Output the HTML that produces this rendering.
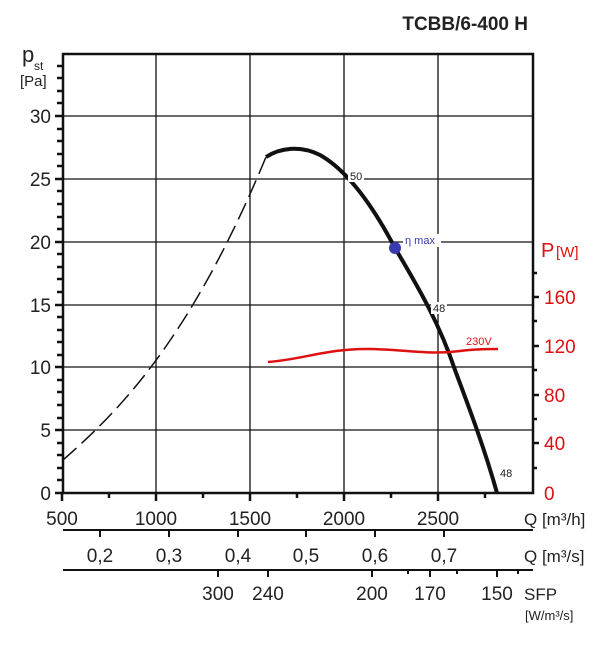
<!DOCTYPE html><html><head><style>body{margin:0;background:#fff}svg{display:block}text{font-family:"Liberation Sans",sans-serif}</style></head><body>
<svg width="607" height="648" viewBox="0 0 607 648">
<text x="528" y="30" font-size="19" font-weight="bold" text-anchor="end" fill="#222">TCBB/6-400 H</text>
<text x="22" y="62" font-size="22" fill="#222">p</text><text x="34" y="70" font-size="12" fill="#222">st</text>
<text x="20" y="86" font-size="15" fill="#222">[Pa]</text>
<g stroke="#111" stroke-width="1.3">
<line x1="156" y1="54" x2="156" y2="493"/><line x1="250" y1="54" x2="250" y2="493"/><line x1="344" y1="54" x2="344" y2="493"/><line x1="438" y1="54" x2="438" y2="493"/>
<line x1="63" y1="116" x2="533" y2="116"/><line x1="63" y1="179" x2="533" y2="179"/><line x1="63" y1="242" x2="533" y2="242"/><line x1="63" y1="305" x2="533" y2="305"/><line x1="63" y1="367" x2="533" y2="367"/><line x1="63" y1="430" x2="533" y2="430"/>
</g>
<rect x="63" y="54" width="470" height="439" fill="none" stroke="#111" stroke-width="2.5"/>
<g stroke="#111" stroke-width="2.5">
<path d="M57 66h6M57 78h6M57 91h6M57 103h6M57 129h6M57 141h6M57 154h6M57 166h6M57 191h6M57 204h6M57 217h6M57 229h6M57 254h6M57 267h6M57 279h6M57 292h6M57 317h6M57 330h6M57 342h6M57 355h6M57 380h6M57 392h6M57 405h6M57 418h6M57 443h6M57 455h6M57 468h6M57 480h6"/>
<path d="M55 116h8M55 179h8M55 242h8M55 305h8M55 367h8M55 430h8M55 493h8"/>
<path d="M533 297h6M533 346h6M533 395h6M533 443h6M533 321h4M533 370h4M533 419h4M533 468h4M533 273h4"/>
<path d="M62 493v8M156 493v8M250 493v8M344 493v8M438 493v8M109 493v5M203 493v5M297 493v5M391 493v5M485 493v5"/>
</g>
<g font-size="19" fill="#222" text-anchor="end"><text x="51" y="123">30</text><text x="51" y="186">25</text><text x="51" y="249">20</text><text x="51" y="312">15</text><text x="51" y="374">10</text><text x="51" y="437">5</text><text x="51" y="500">0</text></g>
<text x="541" y="257" font-size="20" fill="#d11">P</text><text x="556" y="257" font-size="15" fill="#d11">[W]</text>
<g font-size="19" fill="#d11"><text x="544" y="304">160</text><text x="544" y="353">120</text><text x="544" y="402">80</text><text x="544" y="450">40</text><text x="544" y="500">0</text></g>
<g font-size="19" fill="#222" text-anchor="middle"><text x="62" y="525">500</text><text x="156" y="525">1000</text><text x="250" y="525">1500</text><text x="344" y="525">2000</text><text x="438" y="525">2500</text></g>
<text x="524" y="525" font-size="17" fill="#222">Q [m³/h]</text>
<line x1="63" y1="530" x2="533" y2="530" stroke="#111" stroke-width="2"/>
<g stroke="#111" stroke-width="2"><path d="M100 530v7M169 530v7M238 530v7M306 530v7M375 530v7M444 530v7"/></g>
<g font-size="19" fill="#222" text-anchor="middle"><text x="100" y="562">0,2</text><text x="169" y="562">0,3</text><text x="238" y="562">0,4</text><text x="306" y="562">0,5</text><text x="375" y="562">0,6</text><text x="444" y="562">0,7</text></g>
<text x="524" y="562" font-size="17" fill="#222">Q [m³/s]</text>
<line x1="63" y1="570" x2="533" y2="570" stroke="#111" stroke-width="2"/>
<g stroke="#111" stroke-width="2"><path d="M218 570v7M268 570v7M372 570v7M430 570v7M497 570v7M408 570v4M457 570v4M518 570v4"/></g>
<g font-size="19" fill="#222" text-anchor="middle"><text x="218" y="600">300</text><text x="268" y="600">240</text><text x="372" y="600">200</text><text x="430" y="600">170</text><text x="497" y="600">150</text></g>
<text x="524" y="600" font-size="17" fill="#222">SFP</text>
<text x="525" y="620" font-size="13" fill="#222">[W/m³/s]</text>
<path d="M63 460 C120 410 190 340 266 157" fill="none" stroke="#111" stroke-width="1.5" stroke-dasharray="18,7"/>
<path d="M266 157 C280 148 300 145 320 155 C350 172 375 210 395 248 C420 290 440 325 455 370 C470 410 485 450 497 493" fill="none" stroke="#111" stroke-width="4"/>
<path d="M268 362 C300 360 330 348 370 349 C410 350 430 355 460 351 C475 349 488 349 498 349" fill="none" stroke="#d11" stroke-width="2.5"/>
<circle cx="395" cy="248" r="6" fill="#3a3ab0"/>
<rect x="403" y="234" width="38" height="13" fill="#fff"/>
<text x="405" y="244" font-size="11" fill="#3a3ab0">η max</text>
<rect x="348" y="170" width="16" height="12" fill="#fff"/>
<text x="350" y="180" font-size="11" fill="#222">50</text>
<rect x="431" y="302" width="16" height="12" fill="#fff"/>
<text x="433" y="312" font-size="11" fill="#222">48</text>
<text x="500" y="477" font-size="11" fill="#222">48</text>
<text x="466" y="345" font-size="11" fill="#d11">230V</text>
</svg></body></html>
